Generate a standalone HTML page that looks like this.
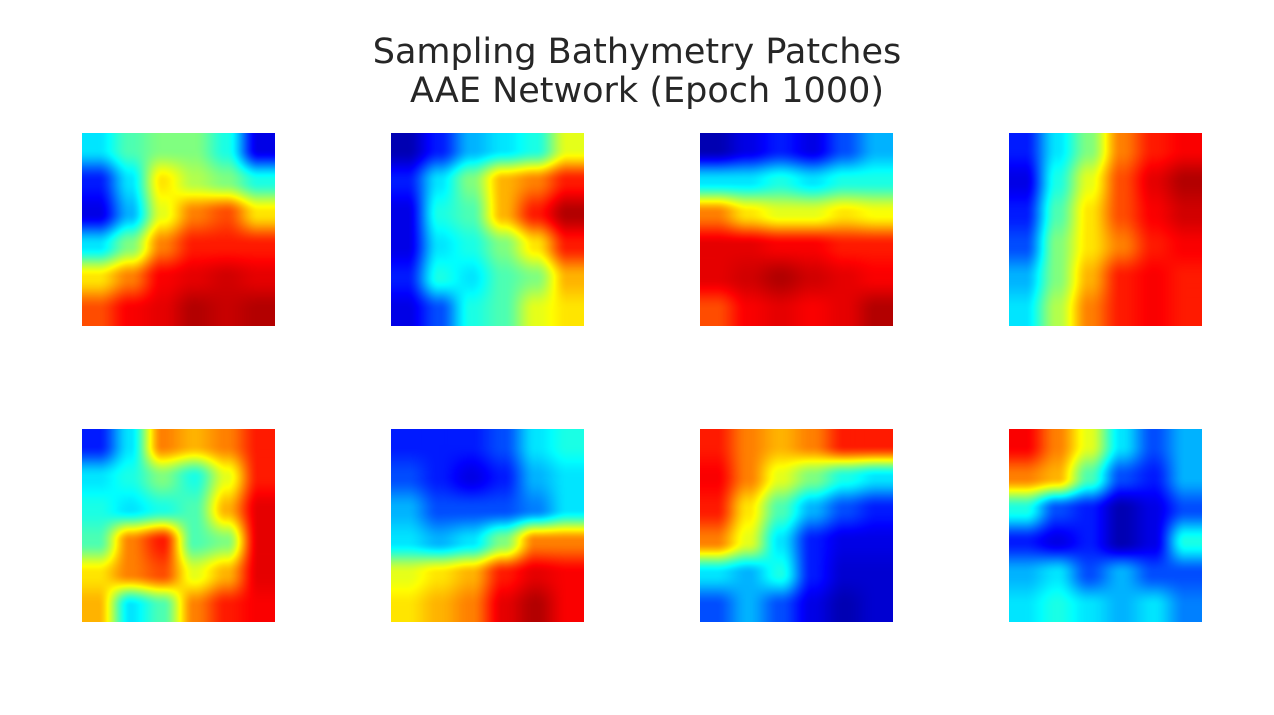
<!DOCTYPE html>
<html><head><meta charset="utf-8">
<style>
body{margin:0;background:#fff;width:1274px;height:715px;overflow:hidden;position:relative;font-family:"DejaVu Sans","Liberation Sans",sans-serif}
.t{position:absolute;left:0;width:1274px;text-align:center;font-size:35px;color:#262626;line-height:39px}
canvas{position:absolute}
</style></head><body>
<div class="t" style="top:33px;left:0px">Sampling Bathymetry Patches</div>
<div class="t" style="top:72px;left:10px">AAE Network (Epoch 1000)</div>
<div id="wrap"></div>
<script>
const patchNames=['patch-1','patch-2','patch-3','patch-4','patch-5','patch-6','patch-7','patch-8'];
const patch1=[[0.35,0.45,0.5,0.5,0.4,0.1],[0.15,0.35,0.65,0.55,0.5,0.4],[0.1,0.3,0.6,0.75,0.8,0.65],[0.35,0.5,0.75,0.85,0.85,0.85],[0.65,0.75,0.88,0.9,0.92,0.9],[0.8,0.88,0.9,0.95,0.93,0.95]];
const patch2=[[0.05,0.15,0.3,0.35,0.4,0.6],[0.15,0.35,0.5,0.7,0.75,0.85],[0.1,0.4,0.45,0.7,0.85,0.95],[0.1,0.35,0.4,0.5,0.65,0.85],[0.15,0.4,0.35,0.45,0.5,0.7],[0.1,0.2,0.4,0.45,0.6,0.65]];
const patch3=[[0.05,0.1,0.15,0.1,0.2,0.3],[0.35,0.35,0.4,0.35,0.4,0.4],[0.75,0.65,0.6,0.6,0.65,0.62],[0.9,0.9,0.88,0.88,0.85,0.85],[0.9,0.92,0.95,0.92,0.9,0.88],[0.8,0.88,0.9,0.88,0.9,0.95]];
const patch4=[[0.15,0.35,0.5,0.75,0.85,0.88],[0.1,0.4,0.6,0.8,0.9,0.95],[0.15,0.45,0.65,0.8,0.88,0.92],[0.2,0.5,0.65,0.75,0.85,0.88],[0.3,0.5,0.7,0.85,0.88,0.85],[0.35,0.55,0.75,0.85,0.88,0.85]];
const patch5=[[0.15,0.35,0.75,0.7,0.75,0.85],[0.35,0.4,0.5,0.4,0.6,0.85],[0.4,0.35,0.4,0.45,0.7,0.9],[0.45,0.75,0.85,0.45,0.5,0.9],[0.65,0.75,0.8,0.6,0.7,0.9],[0.7,0.35,0.45,0.75,0.85,0.88]];
const patch6=[[0.15,0.15,0.15,0.2,0.35,0.4],[0.2,0.15,0.1,0.15,0.3,0.35],[0.3,0.2,0.2,0.2,0.25,0.35],[0.35,0.3,0.35,0.5,0.75,0.75],[0.6,0.65,0.7,0.85,0.9,0.88],[0.65,0.7,0.75,0.9,0.95,0.88]];
const patch7=[[0.85,0.75,0.7,0.75,0.85,0.85],[0.88,0.75,0.6,0.5,0.4,0.35],[0.85,0.65,0.45,0.3,0.2,0.15],[0.75,0.6,0.35,0.15,0.1,0.1],[0.35,0.3,0.4,0.15,0.08,0.08],[0.2,0.3,0.2,0.1,0.05,0.08]];
const patch8=[[0.88,0.75,0.6,0.35,0.2,0.3],[0.75,0.7,0.45,0.2,0.15,0.3],[0.4,0.2,0.15,0.05,0.1,0.2],[0.15,0.1,0.15,0.05,0.1,0.4],[0.3,0.35,0.2,0.3,0.2,0.2],[0.35,0.4,0.35,0.3,0.35,0.25]];
const patches=[patch1,patch2,patch3,patch4,patch5,patch6,patch7,patch8];
const colX=[82,391,700,1009], rowY=[133,429], SZ=193;
function jet(v){
  v=Math.max(0,Math.min(1,v));
  const f=x=>Math.max(0,Math.min(1,x));
  const r=f(1.5-Math.abs(4*v-3)), g=f(1.5-Math.abs(4*v-2)), b=f(1.5-Math.abs(4*v-1));
  return [r*255,g*255,b*255];
}
const wrap=document.getElementById('wrap');
patches.forEach((grid,i)=>{
  const c=document.createElement('canvas');
  
  
  c.width=SZ;c.height=SZ;
  c.style.left=colX[i%4]+'px';c.style.top=rowY[Math.floor(i/4)]+'px';
  const ctx=c.getContext('2d');const img=ctx.createImageData(SZ,SZ);
  const n=grid.length,m=grid[0].length;
  for(let y=0;y<SZ;y++)for(let x=0;x<SZ;x++){
    let gy=(y+0.5)/SZ*n-0.5, gx=(x+0.5)/SZ*m-0.5;
    gy=Math.max(0,Math.min(n-1,gy));gx=Math.max(0,Math.min(m-1,gx));
    const y0=Math.floor(gy),x0=Math.floor(gx),y1=Math.min(n-1,y0+1),x1=Math.min(m-1,x0+1);
    let ty=gy-y0,tx=gx-x0;
    ty=ty*ty*(3-2*ty);tx=tx*tx*(3-2*tx);
    const v=(grid[y0][x0]*(1-tx)+grid[y0][x1]*tx)*(1-ty)+(grid[y1][x0]*(1-tx)+grid[y1][x1]*tx)*ty;
    const col=jet(v),k=(y*SZ+x)*4;
    img.data[k]=col[0];img.data[k+1]=col[1];img.data[k+2]=col[2];img.data[k+3]=255;
  }
  ctx.putImageData(img,0,0);
  wrap.appendChild(c);
});
</script>
</body></html>
